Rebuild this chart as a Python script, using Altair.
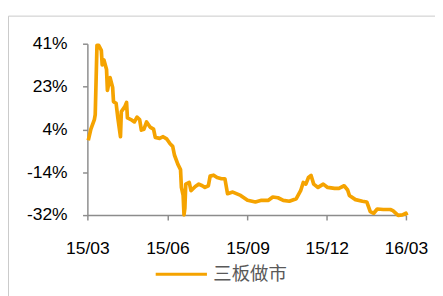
import altair as alt
import pandas as pd

dates = [
    "2015-03-02", "2015-03-05", "2015-03-09", "2015-03-10", "2015-03-12", "2015-03-14",
    "2015-03-17", "2015-03-18", "2015-03-20", "2015-03-23", "2015-03-24", "2015-03-27",
    "2015-03-30", "2015-03-31", "2015-04-03", "2015-04-05", "2015-04-08", "2015-04-09",
    "2015-04-13", "2015-04-15", "2015-04-16", "2015-04-20", "2015-04-24", "2015-04-27",
    "2015-04-30", "2015-05-02", "2015-05-05", "2015-05-08", "2015-05-12", "2015-05-16",
    "2015-05-18", "2015-05-23", "2015-05-27", "2015-05-31", "2015-06-04", "2015-06-07",
    "2015-06-09", "2015-06-13", "2015-06-16", "2015-06-17", "2015-06-19", "2015-06-20",
    "2015-06-21", "2015-06-22", "2015-06-26", "2015-06-28", "2015-07-03", "2015-07-07",
    "2015-07-11", "2015-07-14", "2015-07-18", "2015-07-20", "2015-07-24", "2015-07-28",
    "2015-08-02", "2015-08-06", "2015-08-09", "2015-08-15", "2015-08-24", "2015-09-01",
    "2015-09-10", "2015-09-17", "2015-09-25", "2015-09-30", "2015-10-06", "2015-10-12",
    "2015-10-19", "2015-10-27", "2015-11-01", "2015-11-04", "2015-11-07", "2015-11-10",
    "2015-11-13", "2015-11-16", "2015-11-21", "2015-11-27", "2015-12-02", "2015-12-10",
    "2015-12-15", "2015-12-21", "2015-12-25", "2015-12-27", "2016-01-03", "2016-01-11",
    "2016-01-16", "2016-01-20", "2016-01-24", "2016-01-28", "2016-02-04", "2016-02-12",
    "2016-02-15", "2016-02-21", "2016-02-26", "2016-03-01", "2016-03-02",
]
values = [
    -0.2, 4.6, 8.7, 10.8, 40.3, 40.3,
    38.2, 32.0, 34.1, 30.0, 21.1, 26.6,
    22.4, 16.3, 15.6, 9.4, 1.4, 12.1,
    14.2, 16.0, 9.4, 8.7, 7.7, 9.7,
    8.7, 4.2, 4.6, 7.7, 5.5, 4.6,
    1.1, 0.7, 1.4, 0.5, -1.6, -2.7,
    -6.4, -10.4, -12.6, -20.2, -23.6, -31.9,
    -29.1, -18.8, -18.1, -21.6, -19.8, -18.8,
    -19.5, -20.2, -19.5, -15.4, -15.0, -16.0,
    -16.5, -16.5, -22.9, -22.2, -23.6, -25.7,
    -26.4, -25.7, -25.7, -24.3, -24.6, -25.7,
    -26.1, -25.0, -21.6, -18.1, -18.8, -16.0,
    -15.1, -18.8, -20.2, -18.8, -20.2, -20.6,
    -20.6, -19.5, -21.3, -23.6, -25.4, -26.1,
    -26.4, -30.5, -31.2, -29.4, -29.6, -29.6,
    -30.1, -32.1, -31.9, -31.2, -32.1,
]
series_name = "三板做市"
y_ticks = [-32, -13.75, 4.5, 22.75, 41]
y_labels = ["-32%", "-14%", "4%", "23%", "41%"]
x_ticks = [(2015, 3), (2015, 6), (2015, 9), (2015, 12), (2016, 3)]

df = pd.DataFrame({"date": dates, "value": values, "series": series_name})

label_expr = ""
for v, l in zip(y_ticks, y_labels):
    label_expr += f"datum.value == {v} ? '{l}' : "
label_expr += "''"

font = "Liberation Sans"
axis_gray = "#8c8c8c"
orange = "#F5A300"

line = alt.Chart(df).mark_line(strokeWidth=3.8, strokeJoin="round", clip=False).encode(
    x=alt.X(
        "date:T",
        scale=alt.Scale(type="utc", domain=[alt.DateTime(year=2015, month=3, date=1, utc=True),
                                           alt.DateTime(year=2016, month=3, date=1, utc=True)]),
        axis=alt.Axis(
            values=[alt.DateTime(year=y, month=m, date=1, utc=True) for y, m in x_ticks],
            labelExpr="utcFormat(datum.value, '%y/%m')",
            title=None, grid=False, domainColor=axis_gray, domainWidth=1.5,
            tickColor=axis_gray, tickWidth=1.5, tickSize=5, labelPadding=21,
            labelFont=font, labelFontSize=18, labelColor="#000000", labelAlign="center",
            labelFlush=False,
        ),
    ),
    y=alt.Y(
        "value:Q",
        scale=alt.Scale(domain=[-32, 41], nice=False, zero=False),
        axis=alt.Axis(
            values=y_ticks, labelExpr=label_expr, title=None, grid=False,
            domainColor=axis_gray, domainWidth=1.5, tickColor=axis_gray, tickWidth=1.5,
            tickSize=5, labelPadding=16, labelFont=font, labelFontSize=18,
            labelColor="#000000",
        ),
    ),
    color=alt.Color(
        "series:N",
        scale=alt.Scale(domain=[series_name], range=[orange]),
        legend=alt.Legend(
            title=None, orient="none", legendX=69, legendY=210, symbolType="stroke",
            symbolSize=2800, symbolStrokeWidth=3, labelFont="Noto Sans CJK SC",
            labelFontSize=19, labelColor="#595959", labelOffset=5,
        ),
    ),
)

frame = alt.Chart(pd.DataFrame({"a": [0]})).mark_rect(
    fill=None, stroke="#c8c8c8", strokeWidth=1, clip=False
).encode(
    x=alt.value(-81.5), y=alt.value(-28.5), x2=alt.value(700), y2=alt.value(700)
)

chart = alt.layer(frame, line).properties(
    width=329, height=177,
    autosize=alt.AutoSizeParams(type="none"),
    padding={"left": 82, "top": 32, "right": 30, "bottom": 90},
).configure_view(stroke=None)

chart.save("out.html", embed_options={"renderer": "svg", "actions": False})
